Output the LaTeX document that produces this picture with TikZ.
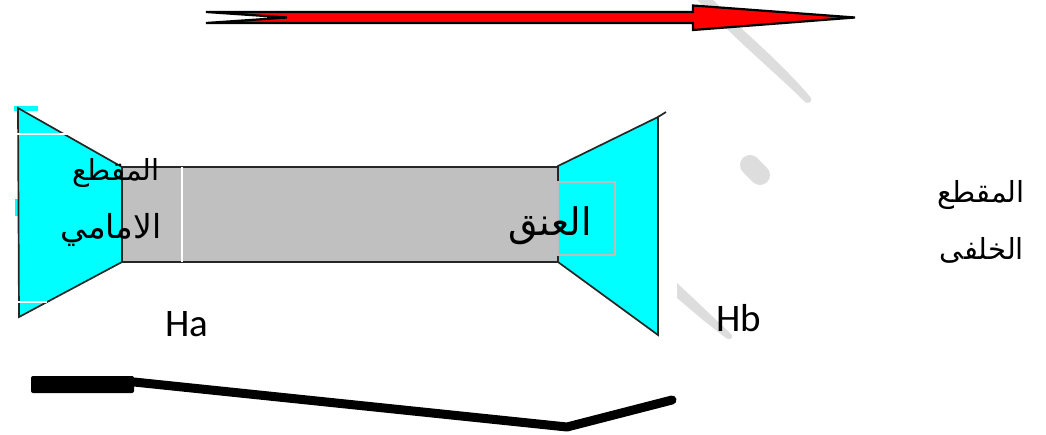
\documentclass[tikz,border=0pt]{standalone}
\usepackage{fontspec}
\usetikzlibrary{positioning}
\TeXXeTstate=1
\newfontfamily\arabicfont[Script=Arabic]{DejaVu Sans}
\newfontfamily\latinfont{Carlito}
\definecolor{NozzleCyan}{HTML}{00FFFF}
\definecolor{NozzleGray}{HTML}{C0C0C0}
\definecolor{NozzleRed}{HTML}{FF0000}
\definecolor{MarkGray}{HTML}{DDDDDD}
\definecolor{NeckFrame}{HTML}{BDBDBD}
\tikzset{
  nozzleface/.style={fill=NozzleCyan, draw=black!85, line width=1.7pt},
  neckbody/.style={fill=NozzleGray, draw=black!85, line width=1.7pt},
  flowarrow/.style={fill=NozzleRed, draw=black, line width=2.2pt, line join=miter},
  watermark/.style={fill=MarkGray, draw=none},
  gapline/.style={white, line width=1.5pt},
  arabiclabel/.style={font=\arabicfont\fontsize{29}{34}\selectfont, text=black, inner sep=0pt},
  heightlabel/.style={font=\latinfont\fontsize{39}{42}\selectfont, text=black, inner sep=0pt},
  profile/.style={draw=black, line width=9pt, line join=round, line cap=round},
}
\begin{document}
\begin{tikzpicture}[x=1pt,y=-1pt]
  \useasboundingbox[fill=white] (0,0) rectangle (1046,434);

  % watermark strokes behind everything
  \fill[watermark] (697,0) -- (713,0) -- (743,30) .. controls (760,45) and (795,78) .. (811,98)
    .. controls (813,103) and (806,105) .. (803,100) .. controls (785,82) and (745,47) .. (728,30) -- cycle;
  \draw[MarkGray, line width=20pt, line cap=round] (750,165) -- (760,175);
  \fill[watermark] (677,283) -- (693,298) -- (732,335)
    .. controls (733,339) and (729,340) .. (726,338) -- (703,320) -- (677,298) -- cycle;

  % arrow
  \draw[flowarrow] (206,12) -- (693,12) -- (693,5.5) -- (855,17.5) -- (693,30) -- (693,23)
    -- (206,23) -- (287,17.5) -- cycle;

  % nozzle
  \fill[NozzleCyan] (14,106) rectangle (38,111);
  \fill[NozzleCyan] (15,199) rectangle (20,216);
  \draw[nozzleface] (18,108) -- (122,167) -- (122,262) -- (19,317) -- cycle;
  \draw[neckbody] (122,167) rectangle (558,262);
  \draw[nozzleface] (558,166) -- (658,117) -- (658,335) -- (558,262) -- cycle;
  \draw[black!85, line width=1.7pt] (658,117) -- (666,112);

  % white gaps and frame left on the picture
  \draw[gapline] (17,134) -- (72,134);
  \draw[gapline] (17,302) -- (47,302);
  \draw[gapline] (182,167) -- (182,262);
  \draw[NeckFrame, line width=1.5pt] (558,182) rectangle (615,255);

  \node[arabiclabel] (frontA) at (116,173) {\beginR المقطع\endR};
  \node[arabiclabel, font=\arabicfont\fontsize{33}{38}\selectfont] (frontB) at (111,230) {\beginR الامامي\endR};
  \node[arabiclabel, font=\arabicfont\fontsize{38}{42}\selectfont] (neck) at (550,226) {\beginR العنق\endR};
  \node[arabiclabel] (rearA) at (981,195) {\beginR المقطع\endR};
  \begin{scope}
    \clip (900,225) rectangle (1046,268);
    \node[arabiclabel] (rearB) at (982,250) {\beginR الخلفى\endR};
  \end{scope}
  \node[heightlabel] (ha) at (187,324) {Ha};
  \node[heightlabel] (hb) at (739,318) {Hb};

  % thick profile line underneath
  \fill[black, rounded corners=2pt] (31,376) rectangle (134,393);
  \draw[profile] (134,382) -- (567,427) -- (672,400);
\end{tikzpicture}
\end{document}
